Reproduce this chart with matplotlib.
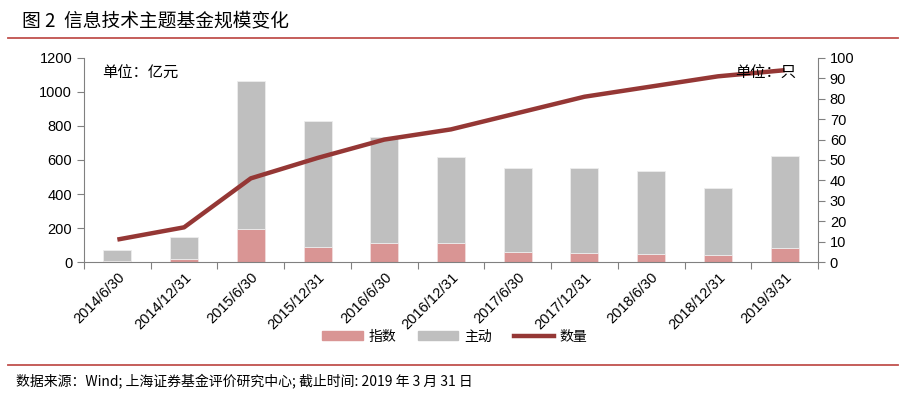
import numpy as np
import matplotlib
matplotlib.use('Agg')
import matplotlib.pyplot as plt
from matplotlib.lines import Line2D
from matplotlib.patches import Patch

plt.rcParams['font.family'] = ['Liberation Sans', 'Noto Sans CJK SC']

# data
dates = ['2014/6/30', '2014/12/31', '2015/6/30', '2015/12/31', '2016/6/30',
         '2016/12/31', '2017/6/30', '2017/12/31', '2018/6/30', '2018/12/31',
         '2019/3/31']
index_scale = [4, 20, 194, 88, 112, 110, 60, 52, 49, 41, 84]        # 指数 (亿元)
active_scale = [66, 125, 872, 742, 623, 508, 493, 501, 486, 396, 541]  # 主动 (亿元)
fund_count = [11, 17, 41, 51, 60, 65, 73, 81, 86, 91, 94]          # 数量 (只)

c_index = '#D99594'
c_active = '#BFBFBF'
c_line = '#953735'
c_rule = '#C0504D'
cjk = 'Noto Sans CJK SC'

fig = plt.figure(figsize=(9.10, 3.97), dpi=100)
ax = fig.add_axes([0.0923, 0.340, 0.8066, 0.514])
x = np.arange(len(dates))

ax.bar(x, index_scale, width=0.42, color=c_index, edgecolor='#F2DCDB', linewidth=0.6, zorder=2)
ax.bar(x, active_scale, bottom=index_scale, width=0.42, color=c_active,
       edgecolor='#EDEDED', linewidth=0.6, zorder=2)

ax.set_xlim(-0.5, len(dates) - 0.5)
ax.set_ylim(0, 1200)
ax.set_yticks(range(0, 1201, 200))
ax.set_xticks(np.arange(-0.5, len(dates), 1.0))
ax.set_xticklabels([])
ax.set_xticks(x, minor=True)
ax.set_xticklabels(dates, minor=True, rotation=45, ha='right', va='top',
                   rotation_mode='anchor', fontsize=10.5)
ax.tick_params(axis='x', which='minor', length=0, pad=6)
ax.tick_params(axis='x', which='major', length=5, color='#808080', direction='out')
ax.tick_params(axis='y', length=5, color='#808080', direction='out', labelsize=10.5)
for s in ['top', 'right']:
    ax.spines[s].set_visible(False)
for s in ['left', 'bottom']:
    ax.spines[s].set_color('#808080')

ax2 = ax.twinx()
ax2.plot(x, fund_count, color=c_line, linewidth=3.2, solid_capstyle='butt', zorder=3)
ax2.set_ylim(0, 100)
ax2.set_yticks(range(0, 101, 10))
ax2.tick_params(axis='y', length=5, color='#808080', direction='out', labelsize=10.5)
for s in ['top', 'left', 'bottom']:
    ax2.spines[s].set_visible(False)
ax2.spines['right'].set_color('#808080')

ax.text(0.025, 0.965, '单位：亿元', transform=ax.transAxes, fontsize=11,
        family=cjk, va='top', ha='left')
ax2.text(0.97, 0.965, '单位：只', transform=ax.transAxes, fontsize=11,
         family=cjk, va='top', ha='right')

handles = [Patch(color=c_index), Patch(color=c_active),
           Line2D([0], [0], color=c_line, linewidth=3.2)]
fig.legend(handles, ['指数', '主动', '数量'], loc='center', bbox_to_anchor=(0.5, 0.152),
           ncol=3, frameon=False, prop={'family': cjk, 'size': 10},
           handlelength=2.9, handleheight=0.6, columnspacing=1.6, handletextpad=0.4)

fig.text(0.024, 0.948, '图 2  信息技术主题基金规模变化', fontsize=13.5, family=cjk,
         va='center', ha='left')
fig.add_artist(Line2D([0.009, 0.987], [0.905, 0.905], color=c_rule, linewidth=1.3))
fig.add_artist(Line2D([0.009, 0.987], [0.081, 0.081], color=c_rule, linewidth=1.3))
fig.text(0.018, 0.040, '数据来源：Wind; 上海证券基金评价研究中心; 截止时间: 2019 年 3 月 31 日',
         fontsize=10, family=cjk, style='italic', va='center', ha='left')

fig.savefig('out.png', dpi=100)
